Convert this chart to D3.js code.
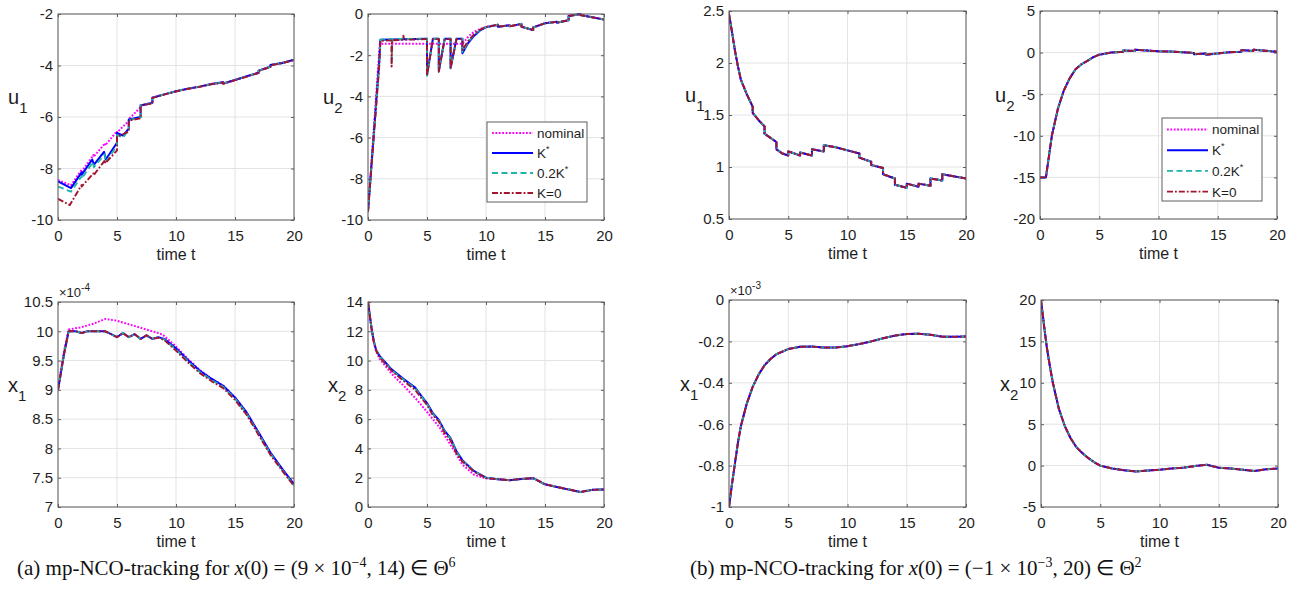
<!DOCTYPE html>
<html><head><meta charset="utf-8">
<script src="https://cdn.jsdelivr.net/npm/d3@7"></script>
<style>body{margin:0;background:#fff} svg{display:block}</style>
</head><body><svg id="c" width="1295" height="600"></svg>
<script>
// ---------- data ----------
const seriesNames = ["nominal", "K*", "0.2K*", "K=0"];
const xTicks = [0, 5, 10, 15, 20];
const xLabelText = "time t";
const captionA = ["(a)  mp-NCO-tracking for ", "x", "(0) = (9 × 10", "−4", ", 14) ∈ Θ", "6"];
const captionB = ["(b)  mp-NCO-tracking for ", "x", "(0) = (−1 × 10", "−3", ", 20) ∈ Θ", "2"];

const yTicksAU1 = [-10, -8, -6, -4, -2];
const yTicksAU2 = [-10, -8, -6, -4, -2, 0];
const yTicksAX1 = [7, 7.5, 8, 8.5, 9, 9.5, 10, 10.5];
const yTicksAX2 = [0, 2, 4, 6, 8, 10, 12, 14];
const yTicksBU1 = [0.5, 1, 1.5, 2, 2.5];
const yTicksBU2 = [-20, -15, -10, -5, 0, 5];
const yTicksBX1 = [-1, -0.8, -0.6, -0.4, -0.2, 0];
const yTicksBX2 = [-5, 0, 5, 10, 15, 20];

// (a) u1
const aU1Nominal = [[0,-8.45],[1.1,-8.65],[2,-8.05],[2,-8.12],[3,-7.48],[3,-7.55],[4,-7.02],[4,-7.1],[5,-6.55],[5,-6.6],[6,-6.15],[6,-6.08],[7,-5.62],[7,-5.55],[8,-5.45],[8,-5.25],[9,-5.12],[10,-5.0],[11,-4.9],[12,-4.82],[13,-4.72],[14,-4.65],[14,-4.7],[15,-4.56],[16,-4.42],[17,-4.28],[17,-4.2],[18,-4.05],[18,-3.98],[19,-3.9],[20,-3.78]];
const aU1Kstar = [[0,-8.5],[1.1,-8.76],[2,-8.15],[2,-8.25],[2.9,-7.65],[3.05,-7.85],[3.9,-7.35],[4.05,-7.65],[5,-7.0],[5,-6.62],[5.5,-6.72],[6,-6.45],[6,-6.1],[7,-6.0],[7,-5.55],[8,-5.45],[8,-5.25],[9,-5.12],[10,-5.0],[11,-4.9],[12,-4.82],[13,-4.72],[14,-4.65],[14,-4.7],[15,-4.56],[16,-4.42],[17,-4.28],[17,-4.2],[18,-4.05],[18,-3.98],[19,-3.9],[20,-3.78]];
const aU1K02 = [[0,-8.7],[1.1,-8.9],[2,-8.3],[2,-8.4],[2.95,-7.75],[3.05,-7.95],[3.95,-7.45],[4.05,-7.75],[5,-7.12],[5,-6.7],[5.5,-6.8],[6,-6.5],[6,-6.12],[7,-6.02],[7,-5.55],[8,-5.46],[8,-5.25],[9,-5.12],[10,-5.0],[11,-4.9],[12,-4.82],[13,-4.72],[14,-4.65],[14,-4.7],[15,-4.56],[16,-4.42],[17,-4.28],[17,-4.2],[18,-4.05],[18,-3.98],[19,-3.9],[20,-3.78]];
const aU1K0 = [[0,-9.18],[1,-9.42],[2,-8.64],[2,-8.7],[3,-8.19],[3,-8.27],[4,-7.67],[4,-7.8],[5,-7.3],[5,-6.76],[6,-6.57],[6,-6.14],[7,-6.05],[7,-5.56],[8,-5.47],[8,-5.26],[9,-5.13],[10,-5.01],[11,-4.91],[12,-4.83],[13,-4.73],[14,-4.66],[14,-4.71],[15,-4.57],[16,-4.43],[17,-4.29],[17,-4.21],[18,-4.06],[18,-3.99],[19,-3.91],[20,-3.79]];

// (a) u2
const aU2Nominal = [[0,-9.6],[1,-1.45],[8,-1.45],[8.5,-1.1],[9,-0.85],[10,-0.62],[11,-0.52],[11,-0.62],[12,-0.55],[12,-0.6],[13,-0.48],[13,-0.62],[14,-0.78],[14,-0.65],[15,-0.45],[16,-0.38],[16,-0.42],[17,-0.3],[17,-0.1],[18,0.0],[18,-0.05],[20,-0.27]];
const aU2Kstar = [[0,-9.6],[0.95,-2.3],[1.05,-1.25],[5,-1.2],[5,-2.95],[5.5,-1.2],[6,-1.2],[6,-2.75],[6.5,-1.2],[7,-1.2],[7,-2.6],[7.5,-1.2],[8,-1.2],[8,-1.9],[8.5,-1.4],[9,-1.05],[9.5,-0.8],[10,-0.65],[11,-0.52],[11,-0.62],[12,-0.55],[12,-0.6],[13,-0.48],[13,-0.62],[14,-0.78],[14,-0.65],[15,-0.45],[16,-0.38],[16,-0.42],[17,-0.3],[17,-0.1],[18,0.0],[18,-0.05],[20,-0.27]];
const aU2K02 = [[0,-9.6],[0.95,-2.5],[1.05,-1.25],[2,-1.22],[2,-2.4],[2.05,-1.22],[5,-1.2],[5,-3.0],[5.5,-1.2],[6,-1.2],[6,-2.8],[6.5,-1.2],[7,-1.2],[7,-2.65],[7.5,-1.2],[8,-1.2],[8,-1.85],[8.5,-1.35],[9,-1.0],[9.5,-0.78],[10,-0.64],[11,-0.52],[11,-0.62],[12,-0.55],[12,-0.6],[13,-0.48],[13,-0.62],[14,-0.78],[14,-0.65],[15,-0.45],[16,-0.38],[16,-0.42],[17,-0.3],[17,-0.1],[18,0.0],[18,-0.05],[20,-0.27]];
const aU2K0 = [[0,-9.6],[0.95,-2.55],[1.05,-1.3],[2,-1.28],[2,-2.55],[2.05,-1.28],[3,-1.25],[3,-1.05],[3.05,-1.25],[5,-1.22],[5,-3.0],[5.5,-1.22],[6,-1.22],[6,-2.8],[6.5,-1.22],[7,-1.22],[7,-2.65],[7.5,-1.22],[8,-1.22],[8,-1.75],[8.5,-1.3],[9,-0.98],[9.5,-0.76],[10,-0.63],[11,-0.52],[11,-0.62],[12,-0.55],[12,-0.6],[13,-0.48],[13,-0.62],[14,-0.78],[14,-0.65],[15,-0.45],[16,-0.38],[16,-0.42],[17,-0.3],[17,-0.1],[18,0.0],[18,-0.05],[20,-0.27]];

// (a) x1  (×10^-4)
const aX1Nominal = [[0,9.0],[0.5,9.65],[0.9,10.03],[2,10.07],[3,10.13],[4,10.21],[5,10.18],[6,10.12],[7,10.06],[8,10.0],[8.8,9.95],[9,9.92],[10,9.74],[11,9.53],[12,9.34],[13,9.19],[14,9.07],[15,8.87],[16,8.61],[17,8.27],[18,7.93],[19,7.65],[20,7.39]];
const aX1Kstar = [[0,9.0],[0.5,9.6],[0.9,10.0],[1.5,10.0],[2,9.97],[2.5,10.0],[3,10.0],[4,10.0],[4.5,9.95],[5,9.9],[5.5,9.97],[6,9.9],[6.5,9.95],[7,9.87],[7.5,9.93],[8,9.87],[8.5,9.9],[9,9.87],[10,9.71],[11,9.51],[12,9.33],[13,9.19],[14,9.07],[15,8.87],[16,8.61],[17,8.27],[18,7.93],[19,7.65],[20,7.39]];
const aX1K02 = [[0,9.0],[0.5,9.6],[0.9,10.0],[1.5,10.0],[2,9.97],[2.5,10.0],[3,10.0],[4,10.0],[4.5,9.95],[5,9.9],[5.5,9.97],[6,9.9],[6.5,9.95],[7,9.87],[7.5,9.93],[8,9.87],[8.5,9.9],[9,9.86],[10,9.69],[11,9.49],[12,9.31],[13,9.17],[14,9.05],[15,8.85],[16,8.59],[17,8.25],[18,7.91],[19,7.63],[20,7.37]];
const aX1K0 = [[0,9.0],[0.5,9.6],[0.9,10.0],[1.5,10.0],[2,9.97],[2.5,10.0],[3,10.0],[4,10.0],[4.5,9.95],[5,9.9],[5.5,9.97],[6,9.9],[6.5,9.95],[7,9.87],[7.5,9.93],[8,9.87],[8.5,9.89],[9,9.85],[10,9.67],[11,9.47],[12,9.29],[13,9.15],[14,9.03],[15,8.83],[16,8.57],[17,8.23],[18,7.89],[19,7.62],[20,7.36]];

// (a) x2
const aX2Nominal = [[0,14],[0.3,12.2],[0.5,11.2],[0.7,10.6],[1,10.1],[2,9.1],[3,8.3],[4,7.45],[5,6.5],[6,5.5],[7,4.25],[8,2.9],[9,2.2],[10,1.95],[11,1.9],[12,1.83],[13,1.92],[14,1.97],[15,1.55],[16,1.37],[17,1.2],[18,1.02],[19,1.17],[20,1.2]];
const aX2Kstar = [[0,14],[0.3,12.2],[0.5,11.3],[0.7,10.7],[1,10.3],[1.5,9.85],[2,9.4],[3,8.75],[4,8.15],[4.5,7.6],[5,7.1],[5.5,6.4],[6,5.95],[6.5,5.2],[7,4.7],[7.5,3.8],[8,3.2],[9,2.45],[10,2.0],[11,1.9],[12,1.83],[13,1.92],[14,1.97],[15,1.55],[16,1.37],[17,1.2],[18,1.02],[19,1.17],[20,1.2]];
const aX2K02 = [[0,14],[0.3,12.2],[0.5,11.3],[0.7,10.7],[1,10.28],[1.5,9.8],[2,9.35],[3,8.7],[4,8.1],[4.5,7.55],[5,7.05],[5.5,6.35],[6,5.9],[6.5,5.15],[7,4.65],[7.5,3.75],[8,3.15],[9,2.43],[10,2.0],[11,1.9],[12,1.83],[13,1.92],[14,1.97],[15,1.55],[16,1.37],[17,1.2],[18,1.02],[19,1.17],[20,1.2]];
const aX2K0 = [[0,14],[0.3,12.2],[0.5,11.25],[0.7,10.65],[1,10.22],[1.5,9.75],[2,9.3],[3,8.62],[4,8.0],[4.5,7.45],[5,6.98],[5.5,6.25],[6,5.85],[6.5,5.05],[7,4.55],[7.5,3.65],[8,3.1],[9,2.4],[10,1.98],[11,1.9],[12,1.83],[13,1.92],[14,1.97],[15,1.55],[16,1.37],[17,1.2],[18,1.02],[19,1.17],[20,1.2]];

// (b): all four strategies coincide
const bU1 = [[0,2.47],[0.25,2.3],[0.5,2.12],[0.75,1.97],[1,1.84],[1.5,1.7],[2,1.58],[2,1.52],[2.5,1.45],[3,1.39],[3,1.32],[3.5,1.28],[4,1.24],[4,1.17],[4.5,1.13],[5,1.11],[5,1.15],[6,1.11],[6,1.14],[7,1.11],[7,1.17],[8,1.15],[8,1.21],[9,1.19],[10,1.16],[11,1.13],[11,1.09],[12,1.05],[12,1.02],[13,0.99],[13,0.93],[14,0.89],[14,0.83],[15,0.8],[15,0.84],[16,0.81],[16,0.84],[17,0.82],[17,0.89],[18,0.87],[18,0.93],[20,0.89]];
const bU2 = [[0,-15],[0.5,-15],[0.75,-12.5],[1,-10],[1.5,-6.8],[2,-4.6],[2.5,-3.1],[3,-2.0],[3.5,-1.4],[4,-1.0],[4.5,-0.55],[5,-0.25],[6,0.0],[7,0.1],[7,0.25],[8,0.2],[8,0.35],[9,0.25],[10,0.15],[11,0.12],[12,0.05],[13,-0.05],[13,-0.2],[14,-0.1],[14,-0.25],[15,-0.1],[16,0.05],[17,0.1],[17,0.3],[18,0.2],[18,0.35],[20,0.1]];
const bX1 = [[0,-1.0],[0.25,-0.89],[0.5,-0.79],[0.75,-0.69],[1,-0.61],[1.5,-0.5],[2,-0.42],[2.5,-0.36],[3,-0.315],[3.5,-0.285],[4,-0.262],[5,-0.237],[6,-0.226],[7,-0.225],[8,-0.23],[9,-0.23],[10,-0.223],[11,-0.213],[12,-0.2],[13,-0.185],[14,-0.172],[15,-0.164],[16,-0.163],[17,-0.168],[18,-0.177],[19,-0.178],[20,-0.176]];
const bX2 = [[0,20],[0.25,17],[0.5,14.2],[0.75,12],[1,10.0],[1.5,6.9],[2,4.8],[2.5,3.3],[3,2.2],[3.5,1.5],[4,0.9],[4.5,0.4],[5,0.0],[6,-0.35],[7,-0.55],[8,-0.7],[9,-0.6],[10,-0.5],[11,-0.35],[12,-0.25],[13,-0.05],[14,0.1],[15,-0.25],[16,-0.35],[17,-0.5],[18,-0.65],[19,-0.45],[20,-0.35]];

// ---------- styles ----------
const styles = {
  "nominal": {color: "#ff00ff", dash: "1.8,1.6", w: 2},
  "K*":      {color: "#0000ff", dash: null, w: 2},
  "0.2K*":   {color: "#1fb3ab", dash: "6,3.5", w: 1.9},
  "K=0":     {color: "#a2142f", dash: "6,2,1.8,2", w: 1.9}
};

const panels = [
  {box:[58,14,294,220],  yd:[-10,-2], yt:yTicksAU1, lab:["u","1"], labX:8,   data:[aU1Nominal,aU1Kstar,aU1K02,aU1K0]},
  {box:[368,14,604,220], yd:[-10,0],  yt:yTicksAU2, lab:["u","2"], labX:323, data:[aU2Nominal,aU2Kstar,aU2K02,aU2K0], legend:[487,122,587,202]},
  {box:[58,302,294,507], yd:[7,10.5], yt:yTicksAX1, lab:["x","1"], labX:8,   data:[aX1Nominal,aX1Kstar,aX1K02,aX1K0], exp:"-4"},
  {box:[368,302,604,507],yd:[0,14],   yt:yTicksAX2, lab:["x","2"], labX:328, data:[aX2Nominal,aX2Kstar,aX2K02,aX2K0]},
  {box:[729,11,966,219], yd:[0.5,2.5],yt:yTicksBU1, lab:["u","1"], labX:685, data:[bU1,bU1,bU1,bU1]},
  {box:[1040,11,1277,219],yd:[-20,5], yt:yTicksBU2, lab:["u","2"], labX:995, data:[bU2,bU2,bU2,bU2], legend:[1162,118,1262,201]},
  {box:[729,300,966,507],yd:[-1,0],   yt:yTicksBX1, lab:["x","1"], labX:680, data:[bX1,bX1,bX1,bX1], exp:"-3"},
  {box:[1041,300,1278,507],yd:[-5,20],yt:yTicksBX2, lab:["x","2"], labX:1000,data:[bX2,bX2,bX2,bX2]}
];

const svg = d3.select("#c");
const FONT = "'Liberation Sans', Arial, Helvetica, sans-serif";
const TXT = "#1e1e1e", BOX = "#5e5e5e", GRID = "#e3e3e3";

panels.forEach(p => {
  const [x0,y0,x1,y1] = p.box;
  const x = d3.scaleLinear().domain([0,20]).range([x0,x1]);
  const y = d3.scaleLinear().domain(p.yd).range([y1,y0]);
  const g = svg.append("g");
  g.selectAll(".gx").data(xTicks).join("line")
    .attr("x1", d=>x(d)).attr("x2", d=>x(d)).attr("y1", y0).attr("y2", y1)
    .attr("stroke", GRID).attr("stroke-width", 1);
  g.selectAll(".gy").data(p.yt).join("line")
    .attr("y1", d=>y(d)).attr("y2", d=>y(d)).attr("x1", x0).attr("x2", x1)
    .attr("stroke", GRID).attr("stroke-width", 1);
  g.append("g").attr("transform", `translate(0,${y1})`)
    .call(d3.axisBottom(x).tickValues(xTicks).tickSize(-3).tickPadding(10).tickFormat(d=>String(d)));
  g.append("g").attr("transform", `translate(${x0},0)`)
    .call(d3.axisLeft(y).tickValues(p.yt).tickSize(-3).tickPadding(5).tickFormat(d=>String(d)));
  g.append("g").attr("transform", `translate(0,${y0})`)
    .call(d3.axisTop(x).tickValues(xTicks).tickSize(-3).tickFormat(""));
  g.append("g").attr("transform", `translate(${x1},0)`)
    .call(d3.axisRight(y).tickValues(p.yt).tickSize(-3).tickFormat(""));
  g.selectAll(".domain").remove();
  g.selectAll(".tick line").attr("stroke", BOX);
  g.selectAll(".tick text").attr("fill", TXT).style("font-family", FONT).style("font-size", "15px");
  const line = d3.line().x(d=>x(d[0])).y(d=>y(d[1]));
  const clipId = "clip" + x0 + "_" + y0;
  g.append("clipPath").attr("id", clipId).append("rect").attr("x", x0).attr("y", y0-2).attr("width", x1-x0).attr("height", y1-y0+4);
  p.data.forEach((arr, i) => {
    const st = styles[seriesNames[i]];
    g.append("path").datum(arr).attr("d", line)
      .attr("fill", "none").attr("stroke", st.color).attr("stroke-width", st.w)
      .attr("stroke-dasharray", st.dash).attr("stroke-linejoin", "round")
      .attr("clip-path", `url(#${clipId})`);
  });
  g.append("rect").attr("x", x0).attr("y", y0).attr("width", x1-x0).attr("height", y1-y0)
    .attr("fill", "none").attr("stroke", BOX).attr("stroke-width", 1);
  g.append("text").attr("x", (x0+x1)/2).attr("y", y1+40).attr("text-anchor", "middle")
    .style("font-family", FONT).style("font-size", "16px").attr("fill", TXT).text(xLabelText);
  const cy = (y0+y1)/2;
  const yl = g.append("text").attr("x", p.labX).attr("y", cy-13)
    .style("font-family", FONT).style("font-size", "20px").attr("fill", TXT);
  yl.append("tspan").text(p.lab[0]);
  yl.append("tspan").attr("dy", 9).style("font-size", "15px").text(p.lab[1]);
  if (p.exp) {
    const et = g.append("text").attr("x", x0+1).attr("y", y0-5)
      .style("font-family", FONT).style("font-size", "13px").attr("fill", TXT);
    et.append("tspan").text("×10");
    et.append("tspan").attr("dy", -6).style("font-size", "10px").text(p.exp);
  }
  if (p.legend) {
    const [lx0,ly0,lx1,ly1] = p.legend;
    g.append("rect").attr("x", lx0).attr("y", ly0).attr("width", lx1-lx0).attr("height", ly1-ly0)
      .attr("fill", "#fff").attr("stroke", BOX).attr("stroke-width", 1);
    const step = (ly1-ly0)/4;
    seriesNames.forEach((nm, i) => {
      const st = styles[nm];
      const ly = ly0 + step*(i+0.5) + 1;
      g.append("line").attr("x1", lx0+5).attr("x2", lx0+46).attr("y1", ly).attr("y2", ly)
        .attr("stroke", st.color).attr("stroke-width", st.w).attr("stroke-dasharray", st.dash);
      const t = g.append("text").attr("x", lx0+50).attr("y", ly+5)
        .style("font-family", FONT).style("font-size", "13.5px").attr("fill", TXT);
      if (nm.endsWith("*")) {
        t.append("tspan").text(nm.slice(0,-1));
        t.append("tspan").attr("dy", -6).style("font-size", "9px").text("*");
      } else t.text(nm);
    });
  }
});

function caption(parts, xPos, yPos) {
  const t = svg.append("text").attr("x", xPos).attr("y", yPos)
    .style("font-family", "'Liberation Serif', 'Times New Roman', serif").style("font-size", "21px").attr("fill", "#111");
  t.append("tspan").text(parts[0]);
  t.append("tspan").style("font-style", "italic").text(parts[1]);
  t.append("tspan").text(parts[2]);
  t.append("tspan").attr("dy", -8).style("font-size", "14px").text(parts[3]);
  t.append("tspan").attr("dy", 8).text(parts[4]);
  t.append("tspan").attr("dy", -8).style("font-size", "14px").text(parts[5]);
}
caption(captionA, 17, 575);
caption(captionB, 690, 575);
</script></body></html>
